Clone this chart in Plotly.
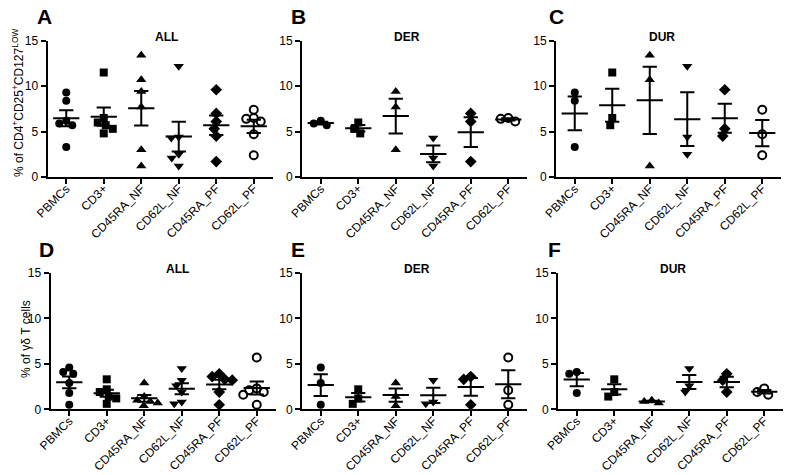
import math
import plotly.graph_objects as go

# ---------------- data ----------------
categories = ["PBMCs", "CD3+", "CD45RA_NF", "CD62L_NF", "CD45RA_PF", "CD62L_PF"]
tick_vals_y = [0, 5, 10, 15]

# % of CD4+CD25+CD127low (Treg) – DER and DUR groups, one list per category
treg_der = [[6.2, 5.9, 5.7], [6.0, 5.3, 4.8], [9.4, 7.7, 3.0],
            [4.3, 2.1, 1.2], [7.0, 6.1, 1.7], [6.5, 6.1, 6.4]]
treg_dur = [[9.3, 8.4, 3.3], [11.5, 5.7, 6.5], [13.4, 10.7, 1.2],
            [12.2, 4.4, 2.5], [9.6, 4.5, 5.3], [7.4, 4.7, 2.4]]
# % of gamma-delta T cells
gd_der = [[4.6, 2.9, 0.5], [2.2, 1.2, 0.6], [2.9, 1.4, 0.4],
          [3.2, 0.6, 0.8], [3.6, 3.3, 0.5], [5.7, 2.1, 0.5]]
gd_dur = [[4.1, 3.9, 1.8], [3.3, 1.4, 1.9], [1.0, 0.7, 0.85],
          [4.5, 2.6, 1.9], [3.9, 3.2, 1.9], [2.3, 1.6, 1.9]]

# ALL = DER and DUR samples pooled
treg_all = [a + b for a, b in zip(treg_der, treg_dur)]
gd_all = [a + b for a, b in zip(gd_der, gd_dur)]

# ---------------- styling / layout ----------------
W, H = 790, 475
FONT = "Liberation Sans, Arial, sans-serif"
symbols = ["circle", "square", "triangle-up", "triangle-down", "diamond", "circle-open"]
msizes = [8, 8, 9, 9, 9, 8]

panels = [
    # letter, title, data, x px domain, y px domain, title x px, title y px, letter x px, letter y px
    ("A", "ALL", treg_all, (47.5, 272.5), (40.7, 177.0), 166, 37, 35, 17),
    ("B", "DER", treg_der, (302, 527), (40.7, 177.0), 407, 37, 289, 17),
    ("C", "DUR", treg_dur, (556, 781), (40.7, 177.0), 662, 37, 547, 17),
    ("D", "ALL", gd_all, (50.5, 275.5), (273.0, 409.3), 177, 269, 37, 249),
    ("E", "DER", gd_der, (302, 527), (273.0, 409.3), 417, 269, 289, 249),
    ("F", "DUR", gd_dur, (558, 783), (273.0, 409.3), 673, 269, 546, 249),
]


def px_x(p):
    return p / W


def px_y(p):
    return 1 - p / H


def swarm_offsets(vals, px_per_y, px_per_x, diam):
    placed = []
    out = [0.0] * len(vals)
    order = sorted(range(len(vals)), key=lambda i: -vals[i])
    for i in order:
        y = vals[i] * px_per_y
        best = None
        for step in range(0, 200):
            for sgn in ([0] if step == 0 else [-1, 1]):
                x = sgn * step * 0.5
                if all((x - a) ** 2 + (y - b) ** 2 >= diam ** 2 for a, b in placed):
                    best = x
                    break
            if best is not None:
                break
        placed.append((best, y))
        out[i] = best / px_per_x
    return out


fig = go.Figure()
layout = dict(
    template="none",
    width=W, height=H, margin=dict(l=0, r=0, t=0, b=0, autoexpand=False),
    paper_bgcolor="white", plot_bgcolor="white", showlegend=False,
    font=dict(family=FONT, color="black", size=12),
    hovermode=False,
)
annotations = []

for k, (letter, title, data, xd, yd, tx, ty, lx, ly) in enumerate(panels):
    idx = "" if k == 0 else str(k + 1)
    xa, ya = "x" + idx, "y" + idx
    px_per_x = (xd[1] - xd[0]) / 6.0
    px_per_y = (yd[1] - yd[0]) / 15.0

    for ci, vals in enumerate(data):
        offs = swarm_offsets(vals, px_per_y, px_per_x, 7.5)
        xs = [ci + o for o in offs]
        sym = symbols[ci]
        marker = dict(symbol=sym, size=msizes[ci], color="black",
                      line=dict(color="black", width=2 if sym.endswith("open") else 0))
        fig.add_trace(go.Scatter(x=xs, y=vals, mode="markers", marker=marker,
                                 xaxis=xa, yaxis=ya, cliponaxis=False))
        n = len(vals)
        m = sum(vals) / n
        sd = math.sqrt(sum((v - m) ** 2 for v in vals) / (n - 1))
        se = sd / math.sqrt(n)
        mw, sw = 0.35, 0.19
        lx_ = [ci - mw, ci + mw, None, ci - sw, ci + sw, None, ci, ci, None, ci - sw, ci + sw]
        ly_ = [m, m, None, m + se, m + se, None, m - se, m + se, None, m - se, m - se]
        fig.add_trace(go.Scatter(x=lx_, y=ly_, mode="lines",
                                 line=dict(color="black", width=2),
                                 xaxis=xa, yaxis=ya, cliponaxis=False))

    layout["xaxis" + idx] = dict(
        domain=[px_x(xd[0]), px_x(xd[1])], range=[-0.5, 5.5], anchor=ya,
        automargin=False,
        tickmode="array", tickvals=list(range(len(categories))), ticktext=categories,
        tickangle=-45, ticks="outside", ticklen=5, tickwidth=2, tickcolor="black",
        ticklabelstandoff=-7,
        showline=True, linecolor="black", linewidth=2, showgrid=False, zeroline=False,
        tickfont=dict(family=FONT, size=12, color="black"),
    )
    layout["yaxis" + idx] = dict(
        domain=[px_y(yd[1]), px_y(yd[0])], range=[0, 15], anchor=xa,
        automargin=False,
        tickmode="array", tickvals=tick_vals_y, ticktext=[str(v) for v in tick_vals_y],
        ticks="outside", ticklen=5, tickwidth=2, tickcolor="black",
        showline=True, linecolor="black", linewidth=2, showgrid=False, zeroline=False,
        tickfont=dict(family=FONT, size=12, color="black"),
    )
    annotations.append(dict(text="<b>%s</b>" % title, x=px_x(tx), y=px_y(ty),
                            xref="paper", yref="paper", showarrow=False,
                            xanchor="center", yanchor="middle",
                            font=dict(family=FONT, size=12, color="black")))
    annotations.append(dict(text="<b>%s</b>" % letter, x=px_x(lx), y=px_y(ly),
                            xref="paper", yref="paper", showarrow=False,
                            xanchor="left", yanchor="middle",
                            font=dict(family=FONT, size=21, color="black")))

annotations.append(dict(text="% of CD4<sup>+</sup>CD25<sup>+</sup>CD127<sup>LOW</sup>",
                        x=px_x(18), y=px_y(103), xref="paper", yref="paper",
                        showarrow=False, textangle=-90, xanchor="center", yanchor="middle",
                        font=dict(family=FONT, size=12, color="black")))
annotations.append(dict(text="% of γδ T cells",
                        x=px_x(26), y=px_y(339), xref="paper", yref="paper",
                        showarrow=False, textangle=-90, xanchor="center", yanchor="middle",
                        font=dict(family=FONT, size=12, color="black")))
layout["annotations"] = annotations
fig.update_layout(**layout)
fig.write_html("out.html", config={"displayModeBar": False},
               post_script="document.body.style.margin='0px';")
